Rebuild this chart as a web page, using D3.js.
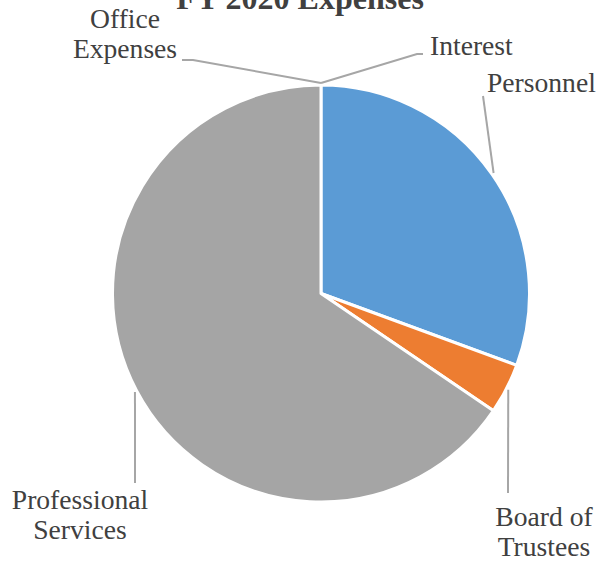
<!DOCTYPE html>
<html>
<head>
<meta charset="utf-8">
<script src="https://cdn.jsdelivr.net/npm/d3@7"></script>
<style>
	html, body {
		margin: 0;
		padding: 0;
		background: #ffffff;
	}

	svg text, svg tspan {
		font-family: "Liberation Serif", "DejaVu Serif", serif;
		fill: #404040;
	}
</style>
</head>
<body>
<svg id="chart" width="602" height="569"></svg>
<script>
// Chart values (percent of total)
const categories = ["Personnel", "Board of Trustees", "Professional Services", "Office Expenses", "Interest"];
const values = [30.6, 3.9, 65.5, 0, 0];
const colors = ["#5b9bd5", "#ed7d31", "#a5a5a5", "#ffc000", "#4472c4"];

// Label placement (layout, not data): text lines, anchor, and where the leader ends
const labelLayout = {
	"Personnel": {lines: ["Personnel"], x: 487, y: 92, anchor: "start", path: [[483, 96]]},
	"Board of Trustees": {lines: ["Board of", "Trustees"], x: 544, y: 526, anchor: "middle", path: [[508, 493]]},
	"Professional Services": {lines: ["Professional", "Services"], x: 80, y: 509, anchor: "middle", path: [[135, 483]]},
	"Office Expenses": {lines: ["Office", "Expenses"], x: 125, y: 28, anchor: "middle", path: [[193, 60], [182, 60]]},
	"Interest": {lines: ["Interest"], x: 430, y: 55, anchor: "start", path: [[417, 54], [423, 54]]},
};

const theme = {
	cx: 321,
	cy: 293.5,
	radius: 208.5,
	lineHeight: 29.5,
	fontSize: 27.6,
	font: "'Liberation Serif', 'DejaVu Serif', serif",
	leaderColor: "#a6a6a6",
};

const svg = d3.select("#chart");

const data = categories.map((name, i) => ({name, value: values[i], color: colors[i]}));

const pie = d3.pie()
	.sort(null)
	.value((d) => d.value);

const arc = d3.arc()
	.innerRadius(0)
	.outerRadius(theme.radius);

const edgeArc = d3.arc()
	.innerRadius(theme.radius + 2)
	.outerRadius(theme.radius + 2);

const arcs = pie(data);

const g = svg.append("g")
	.attr("transform", `translate(${theme.cx}, ${theme.cy})`);

// Slices
g.append("g")
	.selectAll("path")
	.data(arcs.filter((d) => d.value > 0))
	.join("path")
	.attr("d", arc)
	.attr("fill", (d) => d.data.color)
	.attr("stroke", "#ffffff")
	.attr("stroke-width", 3)
	.attr("stroke-linejoin", "round");

// Leader lines from the slice edge out to each label
const line = d3.line();

svg.append("g")
	.attr("fill", "none")
	.attr("stroke", theme.leaderColor)
	.attr("stroke-width", 2)
	.selectAll("path")
	.data(arcs)
	.join("path")
	.attr("d", (d) => {
		const [sx, sy] = edgeArc.centroid(d);
		const start = [sx + theme.cx, sy + theme.cy];
		return line([start, ...labelLayout[d.data.name].path]);
	});

// Labels
const labels = svg.append("g")
	.selectAll("text")
	.data(arcs)
	.join("text")
	.attr("font-family", theme.font)
	.attr("font-size", theme.fontSize)
	.attr("text-anchor", (d) => labelLayout[d.data.name].anchor)
	.attr("x", (d) => labelLayout[d.data.name].x)
	.attr("y", (d) => labelLayout[d.data.name].y);

labels.selectAll("tspan")
	.data((d) => labelLayout[d.data.name].lines.map((t) => ({t, x: labelLayout[d.data.name].x})))
	.join("tspan")
	.attr("x", (d) => d.x)
	.attr("dy", (d, i) => (i === 0 ? 0 : theme.lineHeight))
	.text((d) => d.t);

// Title (partly above the top edge, as in the reference)
svg.append("text")
	.attr("x", 300)
	.attr("y", 9)
	.attr("text-anchor", "middle")
	.attr("font-family", theme.font)
	.attr("font-size", 32)
	.attr("font-weight", "bold")
	.text("FY 2020 Expenses");
</script>
</body>
</html>
